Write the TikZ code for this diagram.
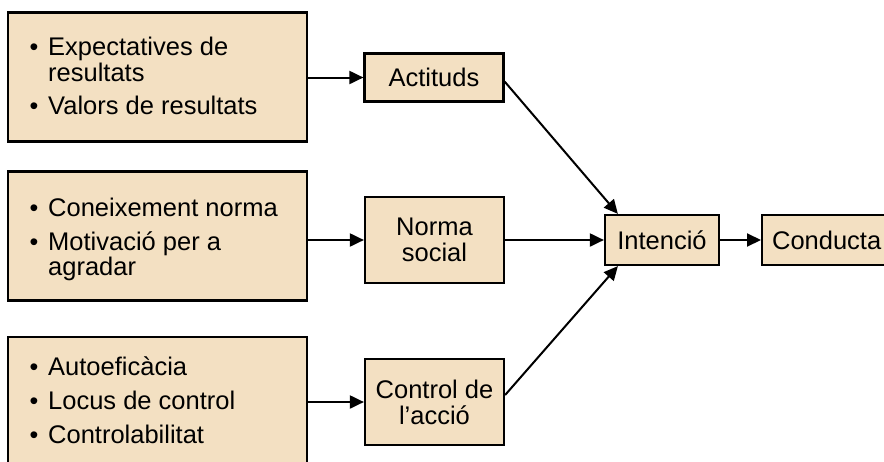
\documentclass[tikz,border=0pt]{standalone}
\usepackage{fontspec}
\setmainfont{Liberation Sans}
\usetikzlibrary{arrows.meta}

\definecolor{boxfill}{RGB}{243,224,194}

\tikzset{
  panel/.style={draw=black, line width=2.4pt, fill=boxfill, inner sep=0pt},
  stage/.style={draw=black, line width=2.2pt, fill=boxfill, inner sep=0pt, align=center,
                font=\fontsize{25.5pt}{26pt}\selectfont},
  item/.style={anchor=base west, inner sep=0pt, font=\fontsize{25.5pt}{26pt}\selectfont},
  dot/.style={anchor=base, inner sep=0pt, font=\fontsize{25pt}{26pt}\selectfont},
  link/.style={line width=2pt, -{Triangle[length=14pt,width=13pt]}}
}

\begin{document}
\begin{tikzpicture}[x=1pt,y=-1pt]
  \useasboundingbox (0,0) rectangle (884,461);
  \clip (0,0) rectangle (884,461);

  % determinant panels on the left
  \node[panel, minimum width=299pt, minimum height=129pt] (beliefs) at (157.5,77) {};
  \node[panel, minimum width=299pt, minimum height=129pt] (norms) at (157.5,236) {};
  \node[panel, minimum width=299pt, minimum height=150pt] (control) at (157.5,412) {};

  % panel contents
  \node[dot]  (b1) at (34,55) {•};
  \node[item] (t1) at (48,55) {Expectatives de};
  \node[item] (t2) at (48,81) {resultats};
  \node[dot]  (b2) at (34,114) {•};
  \node[item] (t3) at (48,114) {Valors de resultats};

  \node[dot]  (b3) at (34,216) {•};
  \node[item] (t4) at (48,216) {Coneixement norma};
  \node[dot]  (b4) at (34,250) {•};
  \node[item] (t5) at (48,250) {Motivació per a};
  \node[item] (t6) at (48,275) {agradar};

  \node[dot]  (b5) at (34,375) {•};
  \node[item] (t7) at (48,375) {Autoeficàcia};
  \node[dot]  (b6) at (34,409) {•};
  \node[item] (t8) at (48,409) {Locus de control};
  \node[dot]  (b7) at (34,443) {•};
  \node[item] (t9) at (48,443) {Controlabilitat};

  % intermediate constructs
  \node[stage, minimum width=139pt, minimum height=48pt] (att) at (434,77.5) {Actituds};
  \node[stage, minimum width=139pt, minimum height=86pt] (soc) at (434.5,240) {Norma\\social};
  \node[stage, minimum width=139pt, minimum height=86pt] (act) at (434.5,402) {Control de\\l’acció};

  % intention and behaviour
  \node[stage, minimum width=114pt, minimum height=50pt] (int) at (662,240) {Intenció};
  \node[stage, minimum width=170pt, minimum height=50pt, anchor=west, text width=150pt, align=left]
       (beh) at (761,240) {Conducta};

  % connectors
  \draw[link] (beliefs.east |- att.west) -- (att.west);
  \draw[link] (norms.east |- soc.west) -- (soc.west);
  \draw[link] (control.east |- act.west) -- (act.west);

  \draw[link] ([yshift=-4pt]att.east) -- ([xshift=14pt]int.north west);
  \draw[link] (soc.east) -- (int.west);
  \draw[link] ([yshift=7pt]act.east) -- ([xshift=14pt]int.south west);
  \draw[link] (int.east) -- (beh.west);
\end{tikzpicture}
\end{document}
